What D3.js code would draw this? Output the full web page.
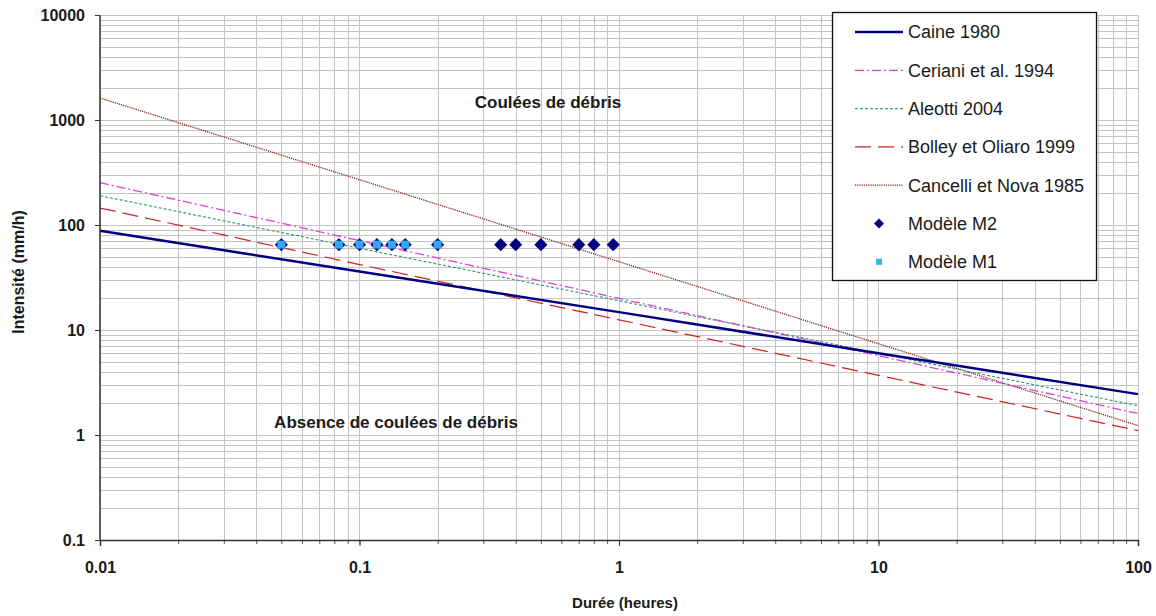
<!DOCTYPE html>
<html><head><meta charset="utf-8">
<script src="https://cdn.jsdelivr.net/npm/d3@7"></script>
<style>
html,body{margin:0;padding:0;background:#fff;}
svg{display:block;font-family:Arial,"Liberation Sans",sans-serif;}
</style></head>
<body>
<svg id="chart" width="1156" height="616"></svg>
<script>
// ---- data ----
const durations = [0.01, 0.1, 1, 10, 100];
const caine = [88, 36, 14.8, 6.0, 2.45];
const ceriani = [253, 71, 20, 5.7, 1.6];
const aleotti = [190, 60, 19, 6.0, 1.9];
const bolley = [145, 42, 12.5, 3.7, 1.1];
const cancelli = [1620, 270, 44.7, 7.4, 1.23];
const m2Durations = [0.05, 0.0833, 0.1, 0.1167, 0.1333, 0.15, 0.2, 0.35, 0.4, 0.5, 0.7, 0.8, 0.95];
const m2Intensity = [65, 65, 65, 65, 65, 65, 65, 65, 65, 65, 65, 65, 65];
const m1Durations = [0.05, 0.0833, 0.1, 0.1167, 0.1333, 0.15, 0.2];
const m1Intensity = [65, 65, 65, 65, 65, 65, 65];
const xTickValues = [0.01, 0.1, 1, 10, 100];
const xTickLabels = ["0.01", "0.1", "1", "10", "100"];
const yTickValues = [0.1, 1, 10, 100, 1000, 10000];
const yTickLabels = ["0.1", "1", "10", "100", "1000", "10000"];
const seriesNames = ["Caine 1980", "Ceriani et al. 1994", "Aleotti 2004", "Bolley et Oliaro 1999", "Cancelli et Nova 1985", "Modèle M2", "Modèle M1"];

// ---- layout ----
const svg = d3.select("#chart");
const L = 100, R = 1138, T = 15, B = 540;
const x = d3.scaleLog().domain([0.01, 100]).range([L, R]);
const y = d3.scaleLog().domain([0.1, 10000]).range([B, T]);

function logGrid(lo, hi) {
  const out = [];
  for (let e = Math.round(Math.log10(lo)); e < Math.round(Math.log10(hi)); e++) {
    for (let k = 1; k <= 9; k++) out.push(k * Math.pow(10, e));
  }
  out.push(hi);
  return out;
}
const xGrid = logGrid(0.01, 100);
const yGrid = logGrid(0.1, 10000);

const grid = svg.append("g").attr("stroke", "#c4c4c4").attr("stroke-width", 1).attr("shape-rendering", "crispEdges");
grid.selectAll("line.v").data(xGrid).join("line").attr("class", "v")
  .attr("x1", d => Math.round(x(d)) + 0.5).attr("x2", d => Math.round(x(d)) + 0.5)
  .attr("y1", T).attr("y2", B);
grid.selectAll("line.h").data(yGrid).join("line").attr("class", "h")
  .attr("y1", d => Math.round(y(d)) + 0.5).attr("y2", d => Math.round(y(d)) + 0.5)
  .attr("x1", L).attr("x2", R);

// ---- series lines ----
const seriesDefs = [
  {name: seriesNames[0], vals: caine, color: "#000080", width: 2.5, dash: null},
  {name: seriesNames[1], vals: ceriani, color: "#e040d8", width: 1.3, dash: "9,3,2,3"},
  {name: seriesNames[2], vals: aleotti, color: "#3c9c7c", width: 1.2, dash: "3,2"},
  {name: seriesNames[3], vals: bolley, color: "#d42020", width: 1.2, dash: "16,7"},
  {name: seriesNames[4], vals: cancelli, color: "#802020", width: 1.3, dash: "1.2,1"}
];
const line = d3.line().x(d => x(d[0])).y(d => y(d[1]));
const linesG = svg.append("g");
seriesDefs.slice().reverse().forEach(s => {
  linesG.append("path")
    .datum(durations.map((d, i) => [d, s.vals[i]]))
    .attr("d", line).attr("fill", "none")
    .attr("stroke", s.color).attr("stroke-width", s.width)
    .attr("stroke-dasharray", s.dash);
});

// ---- points ----
const ptsG = svg.append("g");
ptsG.selectAll("path.m2").data(m2Durations.map((d, i) => [d, m2Intensity[i]])).join("path")
  .attr("class", "m2")
  .attr("transform", d => `translate(${x(d[0])},${y(d[1])}) rotate(45)`)
  .attr("d", d3.symbol().type(d3.symbolSquare).size(86))
  .attr("fill", "#000080");
ptsG.selectAll("rect.m1").data(m1Durations.map((d, i) => [d, m1Intensity[i]])).join("rect")
  .attr("class", "m1")
  .attr("x", d => x(d[0]) - 4).attr("y", d => y(d[1]) - 4)
  .attr("width", 8).attr("height", 8)
  .attr("fill", "#33a8f0");

// ---- axes ----
const yAxis = d3.axisLeft(y).tickValues(yTickValues)
  .tickFormat((d, i) => yTickLabels[i]).tickSize(5).tickPadding(10);
const gy = svg.append("g").attr("transform", `translate(${L},0)`).call(yAxis);
const xMinor = d3.axisBottom(x).tickValues(xGrid).tickFormat("").tickSize(4);
svg.append("g").attr("transform", `translate(0,${B})`).call(xMinor)
  .call(g => g.select(".domain").remove())
  .selectAll("line").attr("stroke", "#555");
const xAxis = d3.axisBottom(x).tickValues(xTickValues)
  .tickFormat((d, i) => xTickLabels[i]).tickSize(6).tickPadding(16);
const gx = svg.append("g").attr("transform", `translate(0,${B})`).call(xAxis);
[gx, gy].forEach(g => {
  g.select(".domain").attr("stroke", "#333").attr("stroke-width", 1.5);
  g.selectAll(".tick line").attr("stroke", "#333");
  g.selectAll("text").attr("font-size", 16).attr("font-weight", "bold")
    .attr("fill", "#1a1a1a").attr("font-family", "Arial,'Liberation Sans',sans-serif");
});
gy.select(".domain").attr("d", `M0,${B}V${T}`);

// ---- titles ----
svg.append("text").attr("x", 625).attr("y", 608).attr("text-anchor", "middle")
  .attr("font-size", 15).attr("font-weight", "bold").attr("fill", "#1a1a1a")
  .text("Durée (heures)");
svg.append("text").attr("transform", "translate(24,272) rotate(-90)").attr("text-anchor", "middle")
  .attr("font-size", 16).attr("font-weight", "bold").attr("fill", "#1a1a1a")
  .text("Intensité (mm/h)");
svg.append("text").attr("x", 548).attr("y", 108).attr("text-anchor", "middle")
  .attr("font-size", 17).attr("font-weight", "bold").attr("fill", "#1a1a1a")
  .text("Coulées de débris");
svg.append("text").attr("x", 396).attr("y", 428).attr("text-anchor", "middle")
  .attr("font-size", 17).attr("font-weight", "bold").attr("fill", "#1a1a1a")
  .text("Absence de coulées de débris");

// ---- legend ----
const lg = svg.append("g");
lg.append("rect").attr("x", 832.5).attr("y", 12.5).attr("width", 264).attr("height", 268)
  .attr("fill", "#fff").attr("stroke", "#111").attr("stroke-width", 1.3);
const rowY = i => 32 + i * 38.3;
seriesDefs.forEach((s, i) => {
  lg.append("line").attr("x1", 855).attr("x2", 903).attr("y1", rowY(i)).attr("y2", rowY(i))
    .attr("stroke", s.color).attr("stroke-width", s.width).attr("stroke-dasharray", s.dash);
});
lg.append("path").attr("transform", `translate(879,${rowY(5)}) rotate(45)`)
  .attr("d", d3.symbol().type(d3.symbolSquare).size(50)).attr("fill", "#000080");
lg.append("rect").attr("x", 876).attr("y", rowY(6) - 3).attr("width", 6).attr("height", 6).attr("fill", "#33b8e0");
lg.selectAll("text.lt").data(seriesNames).join("text").attr("class", "lt")
  .attr("x", 908).attr("y", (d, i) => rowY(i)).attr("dy", "0.35em")
  .attr("font-size", 18).attr("fill", "#1a1a1a").text(d => d);
</script>
</body></html>
